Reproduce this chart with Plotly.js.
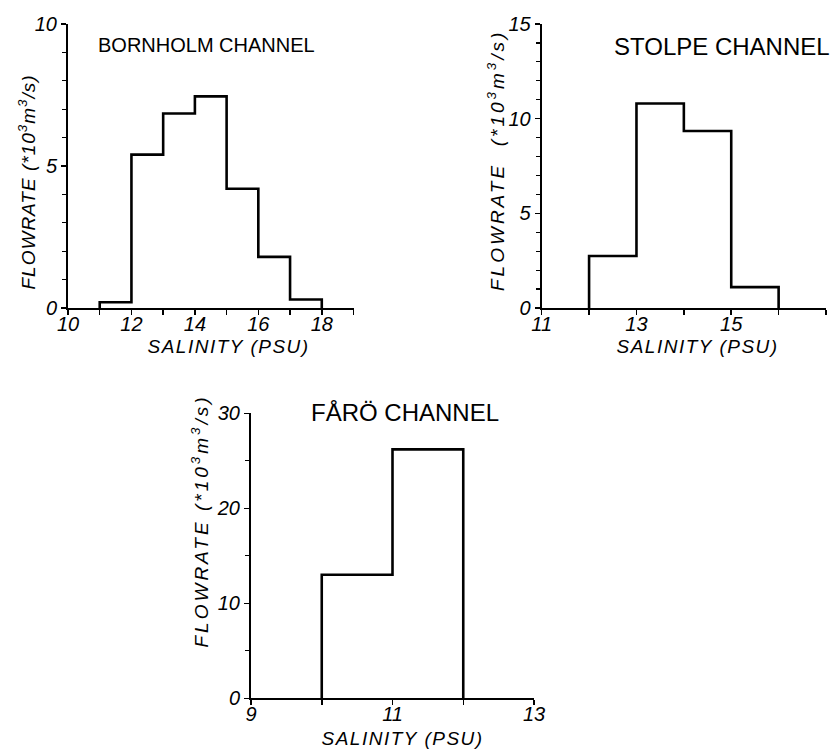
<!DOCTYPE html>
<html>
<head>
<meta charset="utf-8">
<script src="https://cdn.plot.ly/plotly-3.0.1.min.js"></script>
<style>
html,body{margin:0;padding:0;background:#fff;}
#chart{width:835px;height:749px;}
.annotation[data-index="3"] text, .annotation[data-index="4"] text, .annotation[data-index="5"] text{letter-spacing:1.5px;}
.annotation[data-index="6"] text{letter-spacing:1px;}
.annotation[data-index="7"] text, .annotation[data-index="8"] text{letter-spacing:3px;}
</style>
</head>
<body>
<div id="chart"></div>
<script>
// Bornholm Channel: salinity class edges (PSU) and flowrate (*10^3 m^3/s)
const bornholmEdges = [11, 12, 13, 14, 15, 16, 17, 18];
const bornholmFlow  = [0.2, 5.4, 6.85, 7.45, 4.2, 1.8, 0.3];
// Stolpe Channel
const stolpeEdges = [12, 13, 14, 15, 16];
const stolpeFlow  = [2.75, 10.8, 9.35, 1.1];
// Fårö Channel
const faroEdges = [10, 11, 12];
const faroFlow  = [13.0, 26.2];

const titles = ["BORNHOLM CHANNEL", "STOLPE CHANNEL", "FÅRÖ CHANNEL"];
const xTitle = "SALINITY (PSU)";

function stepTrace(edges, vals, xa, ya) {
  const x = [edges[0]], y = [0];
  for (let i = 0; i < vals.length; i++) { x.push(edges[i]); y.push(vals[i]); }
  x.push(edges[edges.length - 1]); y.push(vals[vals.length - 1]);
  x.push(edges[edges.length - 1]); y.push(0);
  return {x: x, y: y, xaxis: xa, yaxis: ya, type: 'scatter', mode: 'lines',
          line: {shape: 'hv', color: '#000', width: 2.6}, hoverinfo: 'skip', showlegend: false};
}

const W = 835, H = 749;
const px = v => v / W, py = v => 1 - v / H;
const FAM = 'Liberation Sans, Arial, sans-serif';
const tickFont = {family: FAM, size: 20, color: '#000', style: 'italic'};
const axTitleFont = {family: FAM, size: 19, color: '#000', style: 'italic'};

function xax(domain, range, tick0, anchor) {
  return {domain: domain, range: range, anchor: anchor, tickmode: 'linear', tick0: tick0, dtick: 2,
    showline: true, linecolor: '#000', linewidth: 2, ticks: 'outside', ticklen: 5, tickwidth: 1.5, tickcolor: '#000',
    minor: {dtick: 1, tick0: tick0, ticks: 'outside', ticklen: 5, tickwidth: 1.5, tickcolor: '#000', showgrid: false},
    showgrid: false, zeroline: false, tickfont: tickFont, ticklabelstandoff: -8, fixedrange: true};
}
function yax(domain, range, dtick, mdtick, anchor) {
  return {domain: domain, range: range, anchor: anchor, tickmode: 'linear', tick0: 0, dtick: dtick,
    showline: true, linecolor: '#000', linewidth: 2, ticks: 'outside', ticklen: 5, tickwidth: 1.5, tickcolor: '#000',
    minor: {dtick: mdtick, tick0: 0, ticks: 'outside', ticklen: 4, tickwidth: 1.2, tickcolor: '#000', showgrid: false},
    showgrid: false, zeroline: false, tickfont: tickFont, fixedrange: true};
}

const data = [
  stepTrace(bornholmEdges, bornholmFlow, 'x', 'y'),
  stepTrace(stolpeEdges, stolpeFlow, 'x2', 'y2'),
  stepTrace(faroEdges, faroFlow, 'x3', 'y3')
];

const yLab1 = "FLOWRATE (*10<sup>3</sup>m<sup>3</sup>/s)";
const yLab2 = "FLOWRATE  (*10<sup>3</sup>m<sup>3</sup>/s)";

function ann(text, x, y, font, angle) {
  return {text: text, x: px(x), y: py(y), xref: 'paper', yref: 'paper', showarrow: false,
    xanchor: 'center', yanchor: 'middle', font: font, textangle: angle || 0};
}

const layout = {
  width: W, height: H, margin: {l: 0, r: 0, t: 0, b: 0},
  paper_bgcolor: '#fff', plot_bgcolor: '#fff', showlegend: false,
  xaxis:  xax([px(68), px(353.5)], [10, 19], 10, 'y'),
  yaxis:  yax([py(308), py(24)], [0, 10], 5, 1, 'x'),
  xaxis2: xax([px(541.7), px(826)], [11, 17], 11, 'y2'),
  yaxis2: yax([py(308), py(24)], [0, 15], 5, 1, 'x2'),
  xaxis3: xax([px(251), px(534)], [9, 13], 9, 'y3'),
  yaxis3: yax([py(698.3), py(413.3)], [0, 30], 10, 5, 'x3'),
  annotations: [
    ann(titles[0], 206, 45, {family: FAM, size: 20, color: '#000'}),
    ann(titles[1], 722, 47, {family: FAM, size: 24, color: '#000'}),
    ann(titles[2], 405, 413, {family: FAM, size: 24, color: '#000'}),
    ann(xTitle, 228, 346, axTitleFont),
    ann(xTitle, 697, 346, axTitleFont),
    ann(xTitle, 402, 738, axTitleFont),
    ann(yLab1, 27, 182, axTitleFont, -90),
    ann(yLab2, 496, 161, axTitleFont, -90),
    ann(yLab1, 200, 521, axTitleFont, -90)
  ]
};

Plotly.newPlot('chart', data, layout, {displayModeBar: false, staticPlot: true});
</script>
</body>
</html>
